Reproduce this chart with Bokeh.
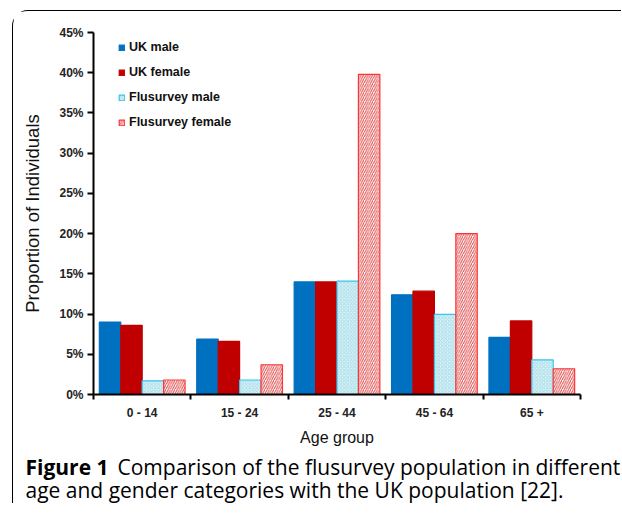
from bokeh.plotting import figure
from bokeh.models import Range1d, FixedTicker, Legend, LegendItem, Label
from bokeh.layouts import column, row
from bokeh.embed import file_html
from bokeh.resources import INLINE

# ---- data ----
age_groups = ["0 - 14", "15 - 24", "25 - 44", "45 - 64", "65 +"]
uk_male = [9.0, 6.9, 14.0, 12.4, 7.1]
uk_female = [8.6, 6.6, 14.0, 12.85, 9.15]
flu_male = [1.7, 1.8, 14.1, 9.95, 4.3]
flu_female = [1.8, 3.7, 39.8, 20.0, 3.2]
series_names = ["UK male", "UK female", "Flusurvey male", "Flusurvey female"]
y_ticks = [0, 5, 10, 15, 20, 25, 30, 35, 40, 45]
y_tick_labels = ["0%", "5%", "10%", "15%", "20%", "25%", "30%", "35%", "40%", "45%"]
caption_bold = "Figure 1"
caption_line1 = "Comparison of the flusurvey population in different"
caption_line2 = "age and gender categories with the UK population [22]."

FONT = "Liberation Sans"
CAP_FONT = "Open Sans"

p = figure(width=608, height=437, output_backend="svg", toolbar_location=None,
           x_range=Range1d(0, 5), y_range=Range1d(0, 45),
           min_border_left=80, min_border_top=21, min_border_right=41,
           min_border_bottom=54)
p.outline_line_color = None
p.xgrid.grid_line_color = None
p.ygrid.grid_line_color = None
p.background_fill_color = "white"
p.border_fill_color = "white"

bw = 0.22
centers = [i + 0.5 for i in range(len(age_groups))]
styles = [
    dict(fill_color="#0070c0", line_color="#0070c0"),
    dict(fill_color="#c00000", line_color="#c00000"),
    dict(fill_color="#d8f1f6", line_color="#33c6ee", hatch_pattern="x",
         hatch_color="#8fd3e2", hatch_scale=3.5, hatch_weight=0.7),
    dict(fill_color="white", line_color="#ff3333", hatch_pattern="/",
         hatch_color="#e04848", hatch_scale=4.5, hatch_weight=1.0),
]
renderers = []
for k, vals in enumerate([uk_male, uk_female, flu_male, flu_female]):
    xs = [c + (k - 1.5) * bw for c in centers]
    r = p.vbar(x=xs, top=vals, bottom=0, width=bw, line_width=1.2, **styles[k])
    renderers.append(r)

# axes
xa = p.xaxis[0]
xa.ticker = FixedTicker(ticks=centers, minor_ticks=[0, 1, 2, 3, 4, 5])
xa.major_label_overrides = {c: g for c, g in zip(centers, age_groups)}
xa.major_tick_out = 0
xa.major_tick_in = 0
xa.minor_tick_out = 5
xa.minor_tick_in = 0
xa.minor_tick_line_color = "black"
xa.minor_tick_line_width = 2
xa.axis_line_width = 2
xa.axis_line_color = "black"
xa.major_label_standoff = 6
xa.major_label_text_font = FONT
xa.major_label_text_font_style = "bold"
xa.major_label_text_font_size = "12px"
xa.major_label_text_color = "#222222"
xa.axis_label = "Age group"
xa.axis_label_text_font = FONT
xa.axis_label_text_font_style = "normal"
xa.axis_label_text_font_size = "16px"
xa.axis_label_text_color = "#111111"
xa.axis_label_standoff = 6

ya = p.yaxis[0]
ya.ticker = FixedTicker(ticks=y_ticks, minor_ticks=[])
ya.major_label_overrides = {t: l for t, l in zip(y_ticks, y_tick_labels)}
ya.major_tick_out = 6
ya.major_tick_in = 0
ya.major_tick_line_width = 2
ya.axis_line_width = 2
ya.axis_line_color = "black"
ya.major_label_standoff = 4
ya.major_label_text_font = FONT
ya.major_label_text_font_style = "bold"
ya.major_label_text_font_size = "12px"
ya.major_label_text_color = "#222222"
ya.axis_label = "Proportion of Individuals"
ya.axis_label_text_font = FONT
ya.axis_label_text_font_style = "normal"
ya.axis_label_text_font_size = "18.5px"
ya.axis_label_text_color = "#111111"
ya.axis_label_standoff = 13

legend = Legend(items=[LegendItem(label=n, renderers=[r]) for n, r in zip(series_names, renderers)],
                location=(25, 262), orientation="vertical",
                glyph_width=7, glyph_height=7, label_height=20, spacing=5,
                label_standoff=4, padding=0, margin=0,
                border_line_alpha=0, background_fill_alpha=0,
                label_text_font=FONT, label_text_font_style="bold",
                label_text_font_size="12.5px", label_text_color="#111111")
p.add_layout(legend, "center")

# caption panel
cap = figure(width=608, height=55, output_backend="svg", toolbar_location=None,
             x_range=Range1d(0, 1), y_range=Range1d(0, 1),
             min_border_left=0, min_border_right=0, min_border_top=0,
             min_border_bottom=0)
cap.axis.visible = False
cap.xgrid.grid_line_color = None
cap.ygrid.grid_line_color = None
cap.outline_line_color = None
cap.add_layout(Label(x=12, y=37, x_units="screen", y_units="screen", text=caption_bold,
                     text_font=CAP_FONT, text_font_style="bold", text_baseline="alphabetic",
                     text_font_size="21px", text_color="black"))
cap.add_layout(Label(x=104, y=37, x_units="screen", y_units="screen", text=caption_line1,
                     text_font=CAP_FONT, text_font_size="21px", text_baseline="alphabetic",
                     text_color="black"))
cap.add_layout(Label(x=12, y=14, x_units="screen", y_units="screen", text=caption_line2,
                     text_font=CAP_FONT, text_font_size="21px", text_baseline="alphabetic",
                     text_color="black"))

layout = column(p, row(cap), spacing=0,
                styles={"border-top": "1px solid black", "border-left": "1px solid black",
                        "border-top-left-radius": "16px", "margin-left": "12px",
                        "margin-top": "10px", "overflow": "visible"})

open("out.html", "w").write(file_html(layout, INLINE))
